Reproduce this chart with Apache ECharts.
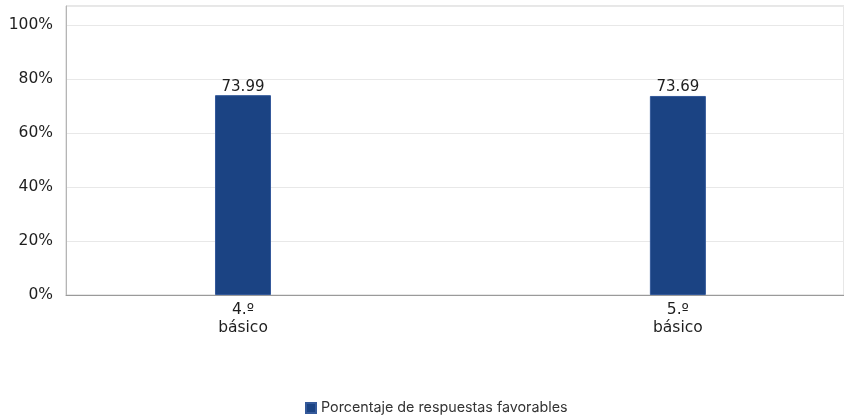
<!DOCTYPE html>
<html>
<head>
<meta charset="utf-8">
<script src="https://cdn.jsdelivr.net/npm/echarts@6/dist/echarts.min.js"></script>
<style>
  html, body { margin: 0; padding: 0; background: #fff; }
  #chart { width: 844px; height: 419px; }
</style>
</head>
<body>
<div id="chart"></div>
<script>
// categories and values
const categories = ["4.º\nbásico", "5.º\nbásico"]
const favorables = [73.99, 73.69]
const seriesName = "Porcentaje de respuestas favorables"

const chart = echarts.init(document.querySelector("#chart"))

// x positions are category indexes 0, 1 on a value axis so the bars sit where the original put them
function catLabel(v) {
	const i = Math.round(v)
	return Math.abs(v - i) < 1e-6 && categories[i] ? categories[i] : ""
}

chart.setOption({
	animation: false,
	grid: {
		left: 66,
		right: 0,
		top: 6,
		bottom: 124,
		show: true,
		borderColor: "#cfcfcf",
		borderWidth: 1
	},
	legend: {
		data: [seriesName],
		left: 300,
		top: 396,
		icon: "rect",
		itemWidth: 10,
		itemHeight: 10,
		itemGap: 6,
		textStyle: { fontFamily: "Inter", fontSize: 14.3, color: "#333" }
	},
	xAxis: {
		type: "value",
		min: -0.407,
		max: 1.382,
		axisLine: { show: true, lineStyle: { color: "#9a9a9a" } },
		axisTick: { show: false },
		splitLine: { show: false },
		axisLabel: {
			customValues: categories.map((c, i) => i),
			margin: 6,
			fontFamily: "DejaVu Sans",
			fontSize: 15.5,
			lineHeight: 18,
			color: "#1e1e1e",
			formatter: catLabel
		}
	},
	yAxis: {
		type: "value",
		min: 0,
		max: 107,
		interval: 20,
		axisLine: { show: true, onZero: false, lineStyle: { color: "#b5b5b5" } },
		axisTick: { show: false },
		splitLine: { lineStyle: { color: "#e8e8e8" } },
		axisLabel: {
			margin: 13,
			fontFamily: "DejaVu Sans",
			fontSize: 15.5,
			color: "#1e1e1e",
			formatter: v => v % 20 === 0 ? v + "%" : ""
		}
	},
	series: [{
		name: seriesName,
		type: "bar",
		barWidth: 56,
		data: favorables.map((v, i) => [i, v]),
		itemStyle: { color: "#1b4383", borderColor: "#34599a", borderWidth: 1 },
		label: {
			show: true,
			position: "top",
			distance: 1,
			fontFamily: "DejaVu Sans",
			fontSize: 15,
			color: "#1e1e1e",
			formatter: p => p.value[1].toFixed(2)
		}
	}]
})
</script>
</body>
</html>
